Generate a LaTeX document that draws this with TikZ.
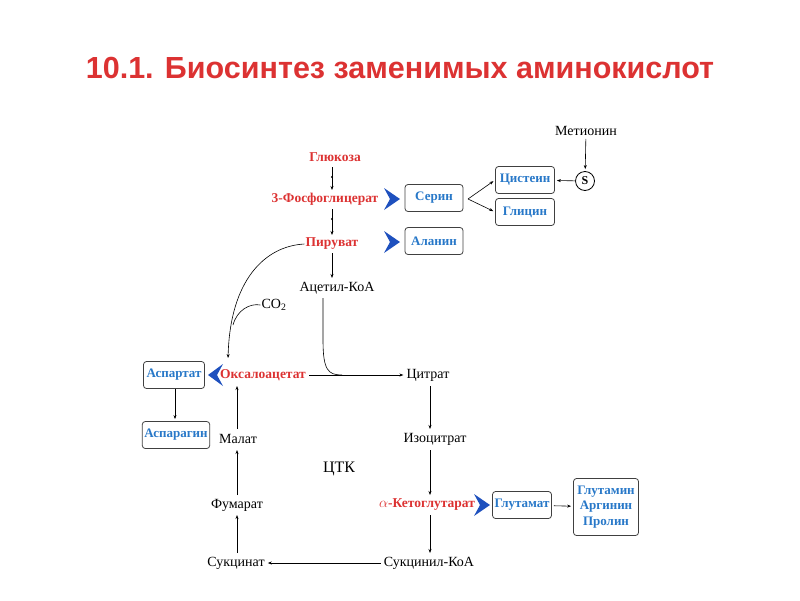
\documentclass[tikz,border=0pt]{standalone}
\usepackage{fontspec}
\setmainfont{Liberation Serif}
\newfontfamily\titlefont{Liberation Sans}
\usetikzlibrary{arrows.meta}
\definecolor{rd}{RGB}{220,50,50}
\definecolor{bl}{RGB}{40,120,200}
\definecolor{chev}{RGB}{30,80,190}
\begin{document}
\begin{tikzpicture}[x=1pt,y=-1pt,
 red/.style={text=rd,font=\bfseries\fontsize{13.5}{15}\selectfont,inner sep=1pt},
 blk/.style={font=\fontsize{14}{16}\selectfont,inner sep=1pt},
 box/.style={draw=black!75,rounded corners=3pt,text=bl,font=\bfseries\fontsize{13}{15}\selectfont,minimum height=27pt,inner sep=2pt,line width=0.8pt},
 ar/.style={-{Stealth[length=4pt,width=3pt]},line width=0.6pt,shorten >=2pt,shorten <=2pt},
]
\useasboundingbox (0,0) rectangle (800,600);
\node[font=\titlefont\bfseries\fontsize{30.5}{34}\selectfont,text=rd] (title) at (400,68) {10.1. Биосинтез заменимых аминокислот};

\node[red] (glu) at (335,157) {Глюкоза};
\node[red] (pg) at (325,199) {3-Фосфоглицерат};
\node[red] (pyr) at (332,244) {Пируват};
\node[blk] (acc) at (337,288) {Ацетил-КоА};
\node[blk] (co2) at (274,305) {CO\textsubscript{2}};
\node[red] (oaa) at (263,375) {Оксалоацетат};
\node[box,minimum width=61pt] (asp) at (174,375) {Аспартат};
\node[box,minimum width=67pt] (asn) at (176,435) {Аспарагин};
\node[blk] (mal) at (238,439) {Малат};
\node[blk] (cit) at (428,375) {Цитрат};
\node[blk] (iso) at (435,439) {Изоцитрат};
\node[font=\fontsize{16}{18}\selectfont] (ctk) at (339,469) {ЦТК};
\node[blk] (fum) at (237,505) {Фумарат};
\node[red] (akg) at (427,505) {$\alpha$-Кетоглутарат};
\node[box,minimum width=58pt] (glt) at (522,505) {Глутамат};
\node[box,minimum width=65pt,minimum height=57pt,align=center,font=\bfseries\fontsize{13}{15.5}\selectfont] (gln) at (606,507) {Глутамин\\Аргинин\\Пролин};
\node[blk] (suc) at (236,563) {Сукцинат};
\node[blk] (sca) at (429,563) {Сукцинил-КоА};
\node[box,minimum width=58pt] (ser) at (434,198) {Серин};
\node[box,minimum width=58pt] (ala) at (434,241) {Аланин};
\node[box,minimum width=59pt] (cys) at (525,180) {Цистеин};
\node[box,minimum width=59pt] (gly) at (525,212) {Глицин};
\node[draw,circle,inner sep=0pt,minimum size=19pt,line width=0.8pt,font=\bfseries\fontsize{12}{14}\selectfont] (s) at (585,181) {S};
\node[blk] (met) at (586,131) {Метионин};

% chevrons
\foreach \cx/\cy in {392/199,392/242,482/505}
  \fill[chev] (\cx-8,\cy-11) -- (\cx+8,\cy) -- (\cx-8,\cy+11) -- (\cx-2,\cy) -- cycle;
\fill[chev] (223,364) -- (208,375) -- (223,386) -- (217,375) -- cycle;

% glycolysis
\draw[ar,shorten <=0pt,shorten >=0pt] (332,167) -- (332,190);
\fill (332,177) circle (1.2pt);
\draw[ar,shorten <=0pt,shorten >=0pt] (332,209) -- (332,235);
\fill (332,219) circle (1.2pt);
\draw[ar,shorten <=0pt,shorten >=0pt] (332,253) -- (332,278);
\coordinate (m) at (342,375);
\draw[line width=0.6pt] (323,298) -- (323,340) .. controls (323,370) and (328,375) .. (m);
\draw[ar] (oaa) -- (cit);
\draw[ar,shorten <=0pt] (pyr.west) .. controls (265,246) and (230,280) .. (228,360);
\draw[line width=0.6pt] (co2.west) .. controls (250,303) and (237,310) .. (233,325);
% TCA
\draw[ar,shorten <=0pt,shorten >=0pt] (430,386) -- (430,429);
\draw[ar,shorten <=0pt,shorten >=0pt] (430,450) -- (430,495);
\draw[ar,shorten <=0pt,shorten >=0pt] (430,515) -- (430,553);
\draw[ar] (sca) -- (suc);
\draw[ar,shorten <=0pt,shorten >=0pt] (237,553) -- (237,515);
\draw[ar,shorten <=0pt,shorten >=0pt] (237,495) -- (237,450);
\draw[ar,shorten <=0pt,shorten >=0pt] (237,429) -- (237,386);
\draw[ar,shorten <=0pt] (asp.south -| 175,0) -- (asn.north -| 175,0);
% serine
\coordinate (sp) at (468,199);
\draw[ar,shorten <=0pt] (sp) -- (cys.west);
\draw[ar,shorten <=0pt] (sp) -- (gly.west);
\draw[ar,shorten <=0pt] (s) -- (cys);
\draw[ar] (met) -- (s);
\draw[ar] (glt) -- (gln);
\end{tikzpicture}
\end{document}
